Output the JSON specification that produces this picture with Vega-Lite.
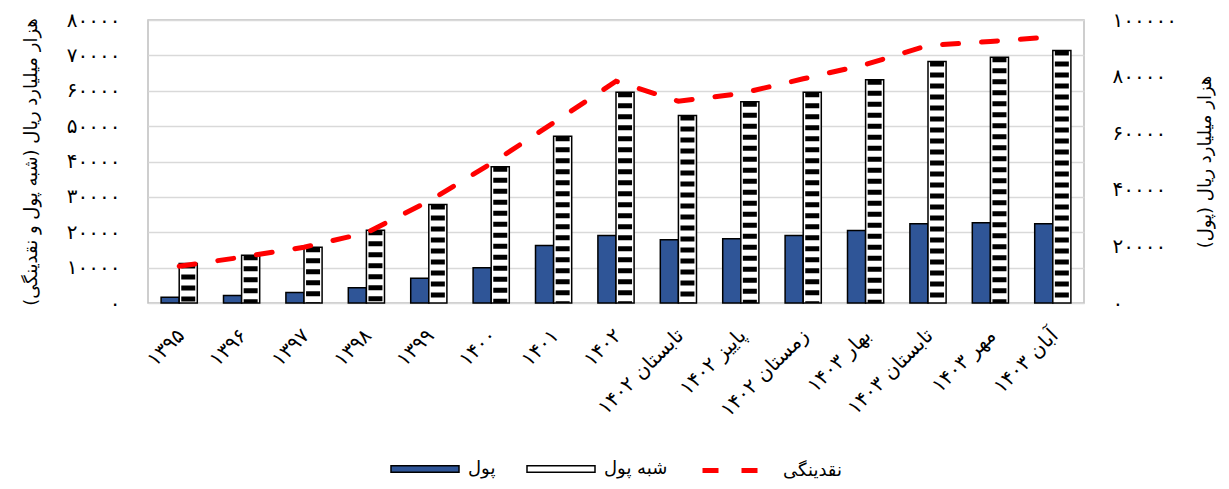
{
  "$schema": "https://vega.github.io/schema/vega-lite/v6.json",
  "width": 936,
  "height": 283,
  "autosize": "none",
  "padding": {"left": 148, "top": 20, "right": 145, "bottom": 186},
  "background": "#FFFFFF",
  "config": {
    "font": "DejaVu Sans",
    "view": {"stroke": "#BFBFBF", "strokeWidth": 1.5},
    "locale": {
      "number": {
        "decimal": ".",
        "thousands": ",",
        "grouping": [3],
        "currency": ["", ""],
        "numerals": ["۰", "۱", "۲", "۳", "۴", "۵", "۶", "۷", "۸", "۹"]
      }
    },
    "axis": {
      "labelFontSize": 20,
      "titleFontSize": 18,
      "titleFontWeight": "normal",
      "labelColor": "#000000",
      "titleColor": "#000000",
      "domain": false,
      "ticks": false
    }
  },
  "datasets": {
    "bars": [
      {"label": "۱۳۹۵", "series": "پول", "value": 1640},
      {"label": "۱۳۹۵", "series": "شبه پول", "value": 11170},
      {"label": "۱۳۹۶", "series": "پول", "value": 2120},
      {"label": "۱۳۹۶", "series": "شبه پول", "value": 13510},
      {"label": "۱۳۹۷", "series": "پول", "value": 2970},
      {"label": "۱۳۹۷", "series": "شبه پول", "value": 15770},
      {"label": "۱۳۹۸", "series": "پول", "value": 4300},
      {"label": "۱۳۹۸", "series": "شبه پول", "value": 20580},
      {"label": "۱۳۹۹", "series": "پول", "value": 7010},
      {"label": "۱۳۹۹", "series": "شبه پول", "value": 27840},
      {"label": "۱۴۰۰", "series": "پول", "value": 9950},
      {"label": "۱۴۰۰", "series": "شبه پول", "value": 38500},
      {"label": "۱۴۰۱", "series": "پول", "value": 16250},
      {"label": "۱۴۰۱", "series": "شبه پول", "value": 47150},
      {"label": "۱۴۰۲", "series": "پول", "value": 19080},
      {"label": "۱۴۰۲", "series": "شبه پول", "value": 59590},
      {"label": "تابستان ۱۴۰۲", "series": "پول", "value": 17870},
      {"label": "تابستان ۱۴۰۲", "series": "شبه پول", "value": 53000},
      {"label": "پاییز ۱۴۰۲", "series": "پول", "value": 18150},
      {"label": "پاییز ۱۴۰۲", "series": "شبه پول", "value": 56880},
      {"label": "زمستان ۱۴۰۲", "series": "پول", "value": 19080},
      {"label": "زمستان ۱۴۰۲", "series": "شبه پول", "value": 59590},
      {"label": "بهار ۱۴۰۳", "series": "پول", "value": 20490},
      {"label": "بهار ۱۴۰۳", "series": "شبه پول", "value": 63100},
      {"label": "تابستان ۱۴۰۳", "series": "پول", "value": 22390},
      {"label": "تابستان ۱۴۰۳", "series": "شبه پول", "value": 68270},
      {"label": "مهر ۱۴۰۳", "series": "پول", "value": 22670},
      {"label": "مهر ۱۴۰۳", "series": "شبه پول", "value": 69480},
      {"label": "آبان ۱۴۰۳", "series": "پول", "value": 22390},
      {"label": "آبان ۱۴۰۳", "series": "شبه پول", "value": 71380}
    ],
    "liq": [
      {"label": "۱۳۹۵", "value": 13000},
      {"label": "۱۳۹۶", "value": 16180},
      {"label": "۱۳۹۷", "value": 19720},
      {"label": "۱۳۹۸", "value": 24800},
      {"label": "۱۳۹۹", "value": 35970},
      {"label": "۱۴۰۰", "value": 49290},
      {"label": "۱۴۰۱", "value": 63700},
      {"label": "۱۴۰۲", "value": 78370},
      {"label": "تابستان ۱۴۰۲", "value": 71310},
      {"label": "پاییز ۱۴۰۲", "value": 74030},
      {"label": "زمستان ۱۴۰۲", "value": 79220},
      {"label": "بهار ۱۴۰۳", "value": 84280},
      {"label": "تابستان ۱۴۰۳", "value": 90990},
      {"label": "مهر ۱۴۰۳", "value": 92400},
      {"label": "آبان ۱۴۰۳", "value": 94060}
    ]
  },
  "encoding": {
    "x": {
      "field": "label",
      "type": "nominal",
      "sort": null,
      "scale": {"paddingInner": 0.42, "paddingOuter": 0.21},
      "axis": {"title": null, "labelAngle": -45, "labelPadding": 22, "labelOffset": -5, "grid": false}
    }
  },
  "layer": [
    {
      "data": {"name": "bars"},
      "encoding": {
        "xOffset": {"field": "series", "type": "nominal", "scale": {"domain": ["پول", "شبه پول"], "paddingInner": 0, "paddingOuter": 0}},
        "y": {
          "field": "value",
          "type": "quantitative",
          "scale": {"domain": [0, 80000], "nice": false},
          "axis": {
            "title": "هزار میلیارد ریال (شبه پول و نقدینگی)",
            "values": [0, 10000, 20000, 30000, 40000, 50000, 60000, 70000, 80000],
            "format": "d",
            "labelPadding": 28,
            "titlePadding": 26,
            "grid": true,
            "gridColor": "#D9D9D9",
            "gridWidth": 1.5
          }
        }
      },
      "layer": [
        {
          "mark": {"type": "bar", "stroke": "#000000", "strokeWidth": 1.5},
          "encoding": {
            "fill": {
              "field": "series",
              "type": "nominal",
              "scale": {"domain": ["پول", "شبه پول"], "range": ["#2F5597", "#FFFFFF"]},
              "legend": {
                "title": null,
                "orient": "none",
                "legendX": 242,
                "legendY": 414,
                "direction": "horizontal",
                "gridAlign": "each",
                "symbolType": "M-1,-0.095H1V0.095H-1Z",
                "symbolSize": 4624,
                "symbolStrokeColor": "#000000",
                "symbolStrokeWidth": 1.5,
                "symbolOpacity": 1,
                "labelFontSize": 18,
                "labelColor": "#000000",
                "labelOffset": 8,
                "columnPadding": 28
              }
            }
          }
        },
        {
          "transform": [{"filter": "datum.series === 'شبه پول'"}],
          "mark": {"type": "rule", "color": "#000000", "strokeWidth": 14, "strokeDash": [5, 6], "strokeCap": "butt"},
          "encoding": {
            "y2": {"datum": 0}
          }
        }
      ]
    },
    {
      "data": {"name": "liq"},
      "mark": {"type": "line", "strokeWidth": 5, "strokeDash": [16, 23], "strokeCap": "round"},
      "encoding": {
        "y": {
          "field": "value",
          "type": "quantitative",
          "scale": {"domain": [0, 100000], "nice": false},
          "axis": {
            "orient": "right",
            "title": "هزار میلیارد ریال (پول)",
            "values": [0, 20000, 40000, 60000, 80000, 100000],
            "format": "d",
            "labelPadding": 28,
            "titlePadding": 20,
            "titleAngle": -90,
            "titleBaseline": "top",
            "grid": false
          }
        },
        "stroke": {
          "datum": "نقدینگی",
          "scale": {"range": ["#FF0000"]},
          "legend": {
            "title": null,
            "orient": "none",
            "legendX": 552,
            "legendY": 414,
            "direction": "horizontal",
            "symbolType": "M-1,0H1",
            "symbolSize": 4624,
            "symbolStrokeWidth": 5,
            "symbolDash": [16, 23],
            "labelFontSize": 18,
            "labelColor": "#000000",
            "labelOffset": 10
          }
        }
      }
    }
  ],
  "resolve": {"scale": {"y": "independent"}, "axis": {"y": "independent"}}
}
